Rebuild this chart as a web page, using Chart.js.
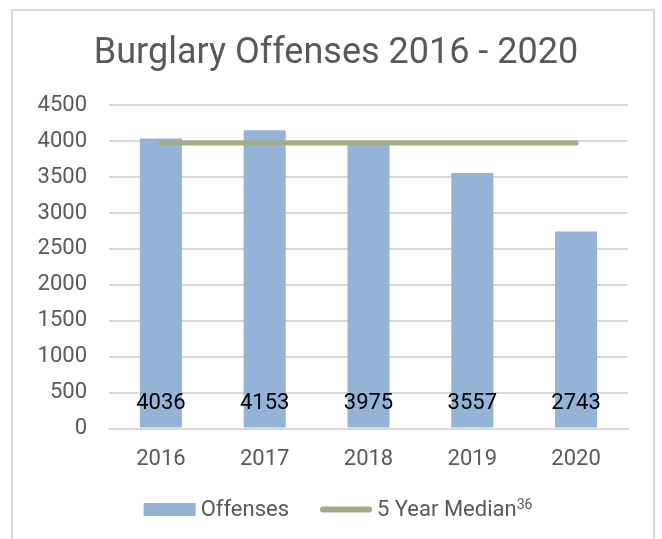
<!DOCTYPE html>
<html>
<head>
<meta charset="utf-8">
<script src="https://cdn.jsdelivr.net/npm/chart.js@4/dist/chart.umd.min.js"></script>
<style>
  html, body { margin: 0; padding: 0; background: #fff; overflow: hidden; }
  #frame { position: absolute; left: 11px; top: 9px; width: 644px; height: 600px; border: 2px solid #d9d9d9; box-sizing: border-box; }
  #wrap { position: absolute; left: 0; top: 0; width: 662px; height: 539px; }
</style>
</head>
<body>
<div id="frame"></div>
<div id="wrap"><canvas id="c" width="662" height="539"></canvas></div>
<script>
const categories = ["2016", "2017", "2018", "2019", "2020"];
const offenses = [4036, 4153, 3975, 3557, 2743];
const median = [3975, 3975, 3975, 3975, 3975];
const yTicks = [0, 500, 1000, 1500, 2000, 2500, 3000, 3500, 4000, 4500];
const seriesNames = ["Offenses", "5 Year Median"];
const medianNote = "36";
const titleText = "Burglary Offenses 2016 - 2020";

const FONT = "Roboto, 'Liberation Sans', sans-serif";
const GRAY = "#595959";
const BAR = "#95B3D7";
const LINE = "#A5AC84";

const barLabels = {
  id: "barLabels",
  afterDatasetsDraw(chart) {
    const ctx = chart.ctx;
    const meta = chart.getDatasetMeta(1);
    const y0 = chart.scales.y.getPixelForValue(0);
    ctx.save();
    ctx.font = "22px " + FONT;
    ctx.fillStyle = "#000";
    ctx.textAlign = "center";
    ctx.textBaseline = "middle";
    meta.data.forEach((el, i) => {
      ctx.fillText(String(offenses[i]), el.x, y0 - 25);
    });
    ctx.restore();
  }
};

// Legend drawn below the x axis: bar swatch, line swatch, with superscript note
const customLegend = {
  id: "customLegend",
  afterDraw(chart) {
    const ctx = chart.ctx;
    const base = 516;      // text baseline
    const mid = 509.5;     // swatch centre
    ctx.save();
    ctx.font = "22px " + FONT;
    const w0 = ctx.measureText(seriesNames[0]).width;
    const w1 = ctx.measureText(seriesNames[1]).width;
    ctx.font = "14px " + FONT;
    const wn = ctx.measureText(medianNote).width;
    const sw = 52, gapText = 5, gapItem = 31;
    const total = sw + gapText + w0 + gapItem + sw + gapText + w1 + wn;
    let x = 338 - total / 2;
    // bar swatch
    ctx.fillStyle = BAR;
    ctx.fillRect(x, mid - 6.5, sw, 13);
    x += sw + gapText;
    ctx.font = "22px " + FONT;
    ctx.fillStyle = GRAY;
    ctx.textBaseline = "alphabetic";
    ctx.textAlign = "left";
    ctx.fillText(seriesNames[0], x, base);
    x += w0 + gapItem;
    // line swatch
    ctx.strokeStyle = LINE;
    ctx.lineWidth = 6;
    ctx.lineCap = "round";
    ctx.beginPath();
    ctx.moveTo(x + 3, mid);
    ctx.lineTo(x + sw - 3, mid);
    ctx.stroke();
    x += sw + gapText;
    ctx.fillText(seriesNames[1], x, base);
    x += w1;
    ctx.font = "14px " + FONT;
    ctx.fillText(medianNote, x, base - 7);
    ctx.restore();
  }
};

new Chart(document.getElementById("c"), {
  data: {
    labels: categories,
    datasets: [
      {
        type: "line",
        label: seriesNames[1],
        data: median,
        borderColor: LINE,
        backgroundColor: LINE,
        borderWidth: 5,
        borderCapStyle: "round",
        pointRadius: 0,
        pointHoverRadius: 0,
        order: 0
      },
      {
        type: "bar",
        label: seriesNames[0],
        data: offenses,
        backgroundColor: BAR,
        barPercentage: 0.405,
        categoryPercentage: 1.0,
        order: 1
      }
    ]
  },
  options: {
    responsive: false,
    animation: false,
    layout: { padding: { left: 20, right: 10, top: 0, bottom: 48 } },
    plugins: {
      title: {
        display: true,
        text: titleText,
        color: GRAY,
        font: { family: FONT, size: 36, weight: "normal" },
        padding: { top: 32, bottom: 30 }
      },
      legend: { display: false },
      tooltip: { enabled: false }
    },
    scales: {
      x: {
        grid: { display: false, drawTicks: false },
        border: { display: true, color: "#d9d9d9", width: 2 },
        ticks: { color: GRAY, font: { family: FONT, size: 22 }, padding: 18 }
      },
      y: {
        min: 0,
        max: 4500,
        afterBuildTicks(scale) { scale.ticks = yTicks.map(v => ({ value: v })); },
        afterFit(scale) { scale.width = 89; },
        grid: { color: "#d9d9d9", lineWidth: 2, drawTicks: false },
        border: { display: false },
        ticks: { color: GRAY, font: { family: FONT, size: 22 }, padding: 22, callback: (v) => String(v) }
      },
      yRight: {
        position: "right",
        min: 0,
        max: 4500,
        afterFit(scale) { scale.width = 24; },
        grid: { display: false, drawTicks: false },
        border: { display: false },
        ticks: { display: false }
      }
    }
  },
  plugins: [barLabels, customLegend]
});
</script>
</body>
</html>
